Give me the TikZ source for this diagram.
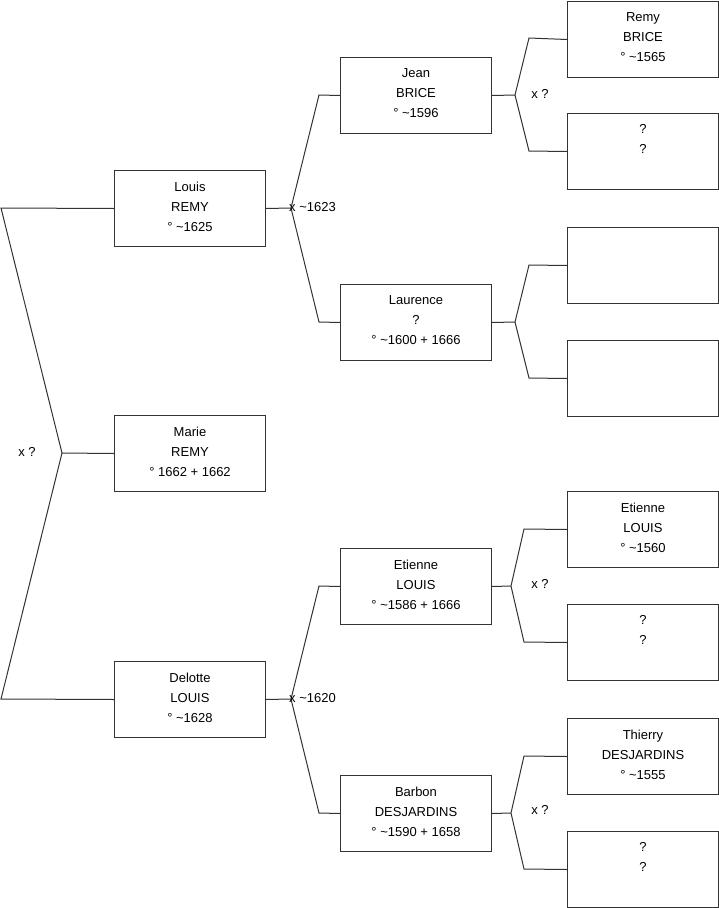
\documentclass[tikz,border=0pt]{standalone}
\usepackage{fontspec}
\setmainfont{Liberation Sans}
\newcommand{\dpfix}{\rule[-4pt]{0pt}{4pt}}
\begin{document}
\begin{tikzpicture}[x=1pt,y=-1pt,
  person/.style={draw=black!80,line width=1pt,fill=white,minimum width=151pt,minimum height=76pt,
    inner sep=0pt,align=center,font=\fontsize{13}{20}\selectfont,anchor=north west},
  link/.style={draw=black!80,line width=1pt},
  lab/.style={font=\fontsize{13}{14}\selectfont,inner sep=0pt}]
\useasboundingbox (0,0) rectangle (719,908);
% column 1
\node[person] (louis) at (114,170) {Louis\\REMY\\° \textasciitilde1625\dpfix};
\node[person] (marie) at (114,415) {Marie\\REMY\\° 1662 + 1662\dpfix};
\node[person] (delotte) at (114,661) {Delotte\\LOUIS\\° \textasciitilde1628\dpfix};
% column 2
\node[person] (jean) at (340,57) {Jean\\BRICE\\° \textasciitilde1596\dpfix};
\node[person] (laurence) at (340,284) {Laurence\\?\\° \textasciitilde1600 + 1666\dpfix};
\node[person] (etienne) at (340,548) {Etienne\\LOUIS\\° \textasciitilde1586 + 1666\dpfix};
\node[person] (barbon) at (340,775) {Barbon\\DESJARDINS\\° \textasciitilde1590 + 1658\dpfix};
% column 3
\node[person] (remy) at (567,1) {Remy\\BRICE\\° \textasciitilde1565\dpfix};
\node[person] (u1) at (567,113) {?\\?\\\strut};
\node[person] (u2) at (567,227) {};
\node[person] (u3) at (567,340) {};
\node[person] (etienne2) at (567,491) {Etienne\\LOUIS\\° \textasciitilde1560\dpfix};
\node[person] (u4) at (567,604) {?\\?\\\strut};
\node[person] (thierry) at (567,718) {Thierry\\DESJARDINS\\° \textasciitilde1555\dpfix};
\node[person] (u5) at (567,831) {?\\?\\\strut};
% forks
\coordinate (f0) at (62,453);
\coordinate (f0t) at (1,208);
\coordinate (f0b) at (1,699);
\draw[link] (louis.west) -- (f0t) -- (f0) -- (f0b) -- (delotte.west);
\draw[link] (f0) -- (marie.west);
\node[lab] (l0) at (27,452) {x ?};

\coordinate (f1) at (291,208);
\coordinate (f1t) at (319,95);
\coordinate (f1b) at (319,322);
\draw[link] (louis.east) -- (f1);
\draw[link] (jean.west) -- (f1t) -- (f1) -- (f1b) -- (laurence.west);
\node[lab,anchor=west] (l1) at (289,207) {x \textasciitilde1623};

\coordinate (f2) at (291,699);
\coordinate (f2t) at (319,586);
\coordinate (f2b) at (319,813);
\draw[link] (delotte.east) -- (f2);
\draw[link] (etienne.west) -- (f2t) -- (f2) -- (f2b) -- (barbon.west);
\node[lab,anchor=west] (l2) at (289,698) {x \textasciitilde1620};

\coordinate (f3) at (515,95);
\coordinate (f3t) at (529,38);
\coordinate (f3b) at (529,151);
\draw[link] (jean.east) -- (f3);
\draw[link] (remy.west) -- (f3t) -- (f3) -- (f3b) -- (u1.west);
\node[lab] (l3) at (540,94) {x ?};

\coordinate (f4) at (515,322);
\coordinate (f4t) at (529,265);
\coordinate (f4b) at (529,378);
\draw[link] (laurence.east) -- (f4);
\draw[link] (u2.west) -- (f4t) -- (f4) -- (f4b) -- (u3.west);

\coordinate (f5) at (511,586);
\coordinate (f5t) at (524,529);
\coordinate (f5b) at (524,642);
\draw[link] (etienne.east) -- (f5);
\draw[link] (etienne2.west) -- (f5t) -- (f5) -- (f5b) -- (u4.west);
\node[lab] (l5) at (540,584) {x ?};

\coordinate (f6) at (511,813);
\coordinate (f6t) at (524,756);
\coordinate (f6b) at (524,869);
\draw[link] (barbon.east) -- (f6);
\draw[link] (thierry.west) -- (f6t) -- (f6) -- (f6b) -- (u5.west);
\node[lab] (l6) at (540,810) {x ?};
\end{tikzpicture}
\end{document}
